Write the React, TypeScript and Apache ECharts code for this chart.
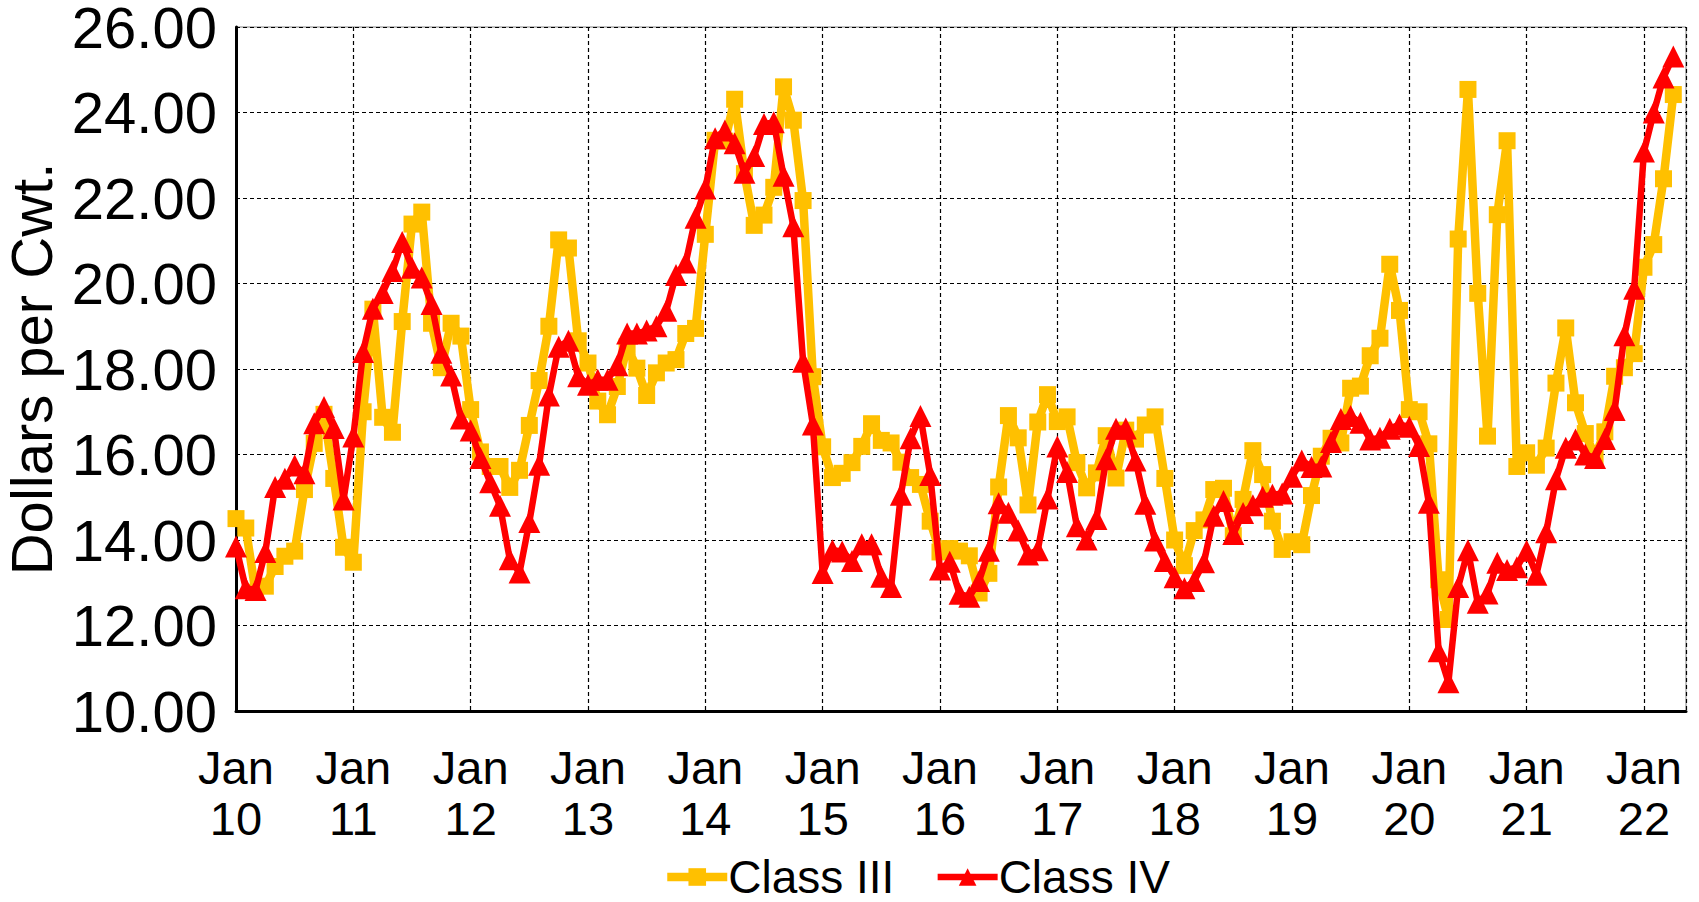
import React, { useEffect, useRef } from "react";
import * as echarts from "echarts";

const startYear = 2010;

const classIII = [
  14.5, 14.28, 12.78, 12.92, 13.38, 13.62, 13.74, 15.18, 16.26, 16.94, 15.44, 13.83,
  13.48, 17.0, 19.4, 16.87, 16.52, 19.11, 21.39, 21.67, 19.07, 18.03, 19.07, 18.77,
  17.05, 16.06, 15.72, 15.72, 15.23, 15.63, 16.68, 17.73, 19.0, 21.02, 20.83, 18.66,
  18.14, 17.25, 16.93, 17.59, 18.52, 18.02, 17.38, 17.91, 18.14, 18.22, 18.83, 18.95,
  21.15, 23.35, 23.33, 24.31, 22.57, 21.36, 21.6, 22.25, 24.6, 23.82, 21.94, 17.82,
  16.18, 15.46, 15.56, 15.81, 16.19, 16.72, 16.33, 16.27, 15.82, 15.46, 15.3, 14.44,
  13.72, 13.8, 13.74, 13.63, 12.76, 13.22, 15.24, 16.91, 16.39, 14.82, 16.76, 17.4,
  16.77, 16.88, 15.81, 15.22, 15.57, 16.44, 15.45, 16.57, 16.36, 16.69, 16.88, 15.44,
  14.0, 13.4, 14.22, 14.47, 15.18, 15.21, 14.1, 14.95, 16.09, 15.53, 14.44, 13.78,
  13.96, 13.89, 15.04, 15.96, 16.38, 16.27, 17.55, 17.6, 18.31, 18.72, 20.45, 19.37,
  17.05, 17.0, 16.25, 13.07, 12.14, 21.04, 24.54, 19.77, 16.43, 21.61, 23.34, 15.72,
  16.04, 15.75, 16.15, 17.67, 18.96, 17.21, 16.49, 15.95, 16.53, 17.83, 18.03, 18.36,
  20.38, 20.91, 22.45, 24.42,
];

const classIV = [
  13.85, 12.87, 12.83, 13.72, 15.24, 15.43, 15.74, 15.56, 16.73, 17.11, 16.62, 14.95,
  16.42, 18.4, 19.41, 19.78, 20.29, 20.97, 20.37, 20.14, 19.52, 18.38, 17.85, 16.84,
  16.56, 15.92, 15.35, 14.8, 13.55, 13.24, 14.42, 15.76, 17.38, 18.52, 18.66, 17.83,
  17.63, 17.75, 17.75, 18.09, 18.83, 18.83, 18.9, 19.0, 19.36, 20.2, 20.49, 21.54,
  22.22, 23.4, 23.58, 23.28, 22.59, 22.98, 23.73, 23.77, 22.52, 21.34, 18.17, 16.7,
  13.23, 13.76, 13.73, 13.51, 13.9, 13.9, 13.14, 12.9, 15.06, 16.38, 16.9, 15.52,
  13.31, 13.49, 12.74, 12.67, 13.04, 13.75, 14.86, 14.64, 14.22, 13.66, 13.76, 14.97,
  16.19, 15.59, 14.32, 14.01, 14.49, 15.89, 16.6, 16.61, 15.86, 14.85, 13.99, 13.51,
  13.13, 12.87, 13.04, 13.48, 14.57, 14.91, 14.14, 14.63, 14.81, 15.01, 15.06, 15.09,
  15.48, 15.86, 15.71, 15.72, 16.29, 16.83, 16.9, 16.74, 16.35, 16.39, 16.6, 16.7,
  16.65, 16.2, 14.87, 11.4, 10.67, 12.9, 13.76, 12.53, 12.75, 13.47, 13.3, 13.36,
  13.75, 13.19, 14.18, 15.42, 16.16, 16.35, 16.0, 15.92, 16.36, 17.04, 18.79, 19.88,
  23.09, 24.0, 24.82, 25.31,
];

const seriesNames = ["Class III", "Class IV"];
const yMin = 10;
const yMax = 26;
const yStep = 2;
const monthsPerTick = 12;
const xMaxMonths = 148.3;

export default function App() {
  const ref = useRef<HTMLDivElement>(null);

  useEffect(() => {
    if (!ref.current) return;
    const chart = echarts.init(ref.current, null, { renderer: "svg" });
    const font = "'Liberation Sans', Arial, sans-serif";
    const toPairs = (arr: number[]) => arr.map((v, i) => [i, v]);

    chart.setOption({
      animation: false,
      backgroundColor: "#ffffff",
      textStyle: { fontFamily: font, color: "#000" },
      grid: {
        left: 236,
        right: 13,
        top: 27,
        bottom: 191,
        outerBoundsMode: "none",
        containLabel: false,
        show: true,
        borderColor: "#808080",
        borderWidth: 1,
        backgroundColor: "transparent",
      },
      legend: {
        data: seriesNames,
        left: 663,
        top: 854,
        padding: 0,
        itemWidth: 60,
        itemHeight: 22,
        itemGap: 40,
        lineStyle: { width: "inherit" },
        textStyle: {
          fontFamily: font,
          fontSize: 46,
          lineHeight: 44,
          color: "#000",
          padding: [0, 0, 0, -4],
        },
      },
      xAxis: {
        type: "value",
        min: 0,
        max: xMaxMonths,
        interval: monthsPerTick,
        axisLine: { show: true, lineStyle: { color: "#000", width: 3 } },
        axisTick: { show: false },
        splitLine: { show: true, lineStyle: { color: "#000", width: 1.2, type: [4, 3] } },
        axisLabel: {
          fontFamily: font,
          fontSize: 47,
          lineHeight: 51,
          color: "#000",
          margin: 31,
          showMaxLabel: false,
          formatter: (v: number) => {
            if (Math.abs(v % monthsPerTick) > 1e-6) return "";
            const yr = startYear + Math.round(v / monthsPerTick);
            return "Jan\n" + String(yr % 100).padStart(2, "0");
          },
        },
      },
      yAxis: {
        type: "value",
        min: yMin,
        max: yMax,
        interval: yStep,
        name: "Dollars per Cwt.",
        nameLocation: "middle",
        nameGap: 175,
        nameTextStyle: { fontFamily: font, fontSize: 58, lineHeight: 56, color: "#000" },
        axisLine: { show: true, lineStyle: { color: "#000", width: 3 } },
        axisTick: { show: false },
        splitLine: { show: true, lineStyle: { color: "#000", width: 1.2, type: [4, 3] } },
        axisLabel: {
          fontFamily: font,
          fontSize: 58,
          lineHeight: 50,
          color: "#000",
          margin: 19,
          formatter: (v: number) => v.toFixed(2),
        },
      },
      series: [
        {
          name: seriesNames[0],
          type: "line",
          data: toPairs(classIII),
          color: "#FFC000",
          symbol: "rect",
          symbolSize: 17,
          showSymbol: true,
          lineStyle: { width: 8.5, color: "#FFC000" },
          itemStyle: { color: "#FFC000" },
          z: 2,
        },
        {
          name: seriesNames[1],
          type: "line",
          data: toPairs(classIV),
          color: "#FF0000",
          symbol: "triangle",
          symbolSize: 22,
          showSymbol: true,
          lineStyle: { width: 6.5, color: "#FF0000" },
          itemStyle: { color: "#FF0000" },
          z: 3,
        },
      ],
    });

    return () => chart.dispose();
  }, []);

  return (
    <div
      ref={ref}
      style={{ position: "fixed", left: 0, top: 0, width: 1699, height: 902, background: "#fff" }}
    />
  );
}
